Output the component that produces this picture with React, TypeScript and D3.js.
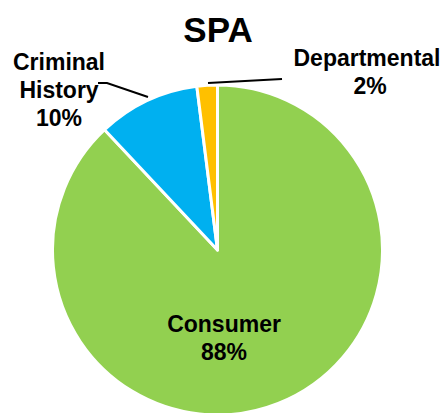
import React from "react";
import * as d3 from "d3";

const categories = ["Consumer", "Criminal History", "Departmental"];
const values = [88, 10, 2];
const colors = ["#92D050", "#00B0F0", "#FFC000"];
const title = "SPA";

export default function App() {
  const W = 447, H = 413;
  const cx = 217.5, cy = 250, r = 165;
  const pie = d3.pie<number>().sort(null).value((d) => d);
  const arcs = pie(values);
  const arc = d3.arc<d3.PieArcDatum<number>>().innerRadius(0).outerRadius(r);
  const font = "Arial, 'Liberation Sans', Helvetica, sans-serif";
  const fs = 23;
  return (
    <svg width={W} height={H} style={{ position: "absolute", left: 0, top: 0, background: "#fff" }}>
      <text x={218} y={42} textAnchor="middle" fontFamily={font} fontWeight="bold" fontSize={35}>{title}</text>
      <g transform={`translate(${cx},${cy})`}>
        {arcs.map((a, i) => (
          <path key={i} d={arc(a) || ""} fill={colors[i]} stroke="#fff" strokeWidth={3} strokeLinejoin="round" />
        ))}
      </g>
      <polyline points="98,83 107,83 148,97" fill="none" stroke="#000" strokeWidth={2} />
      <line x1={208} y1={83} x2={282} y2={79} stroke="#000" strokeWidth={2} />
      <g fontFamily={font} fontWeight="bold" fontSize={fs} textAnchor="middle" fill="#000">
        <text x={59} y={70}>Criminal</text>
        <text x={59} y={98}>History</text>
        <text x={59} y={126}>{`${values[1]}%`}</text>
        <text x={367} y={66}>Departmental</text>
        <text x={370} y={94}>{`${values[2]}%`}</text>
        <text x={224} y={332}>{categories[0]}</text>
        <text x={224} y={360}>{`${values[0]}%`}</text>
      </g>
    </svg>
  );
}
